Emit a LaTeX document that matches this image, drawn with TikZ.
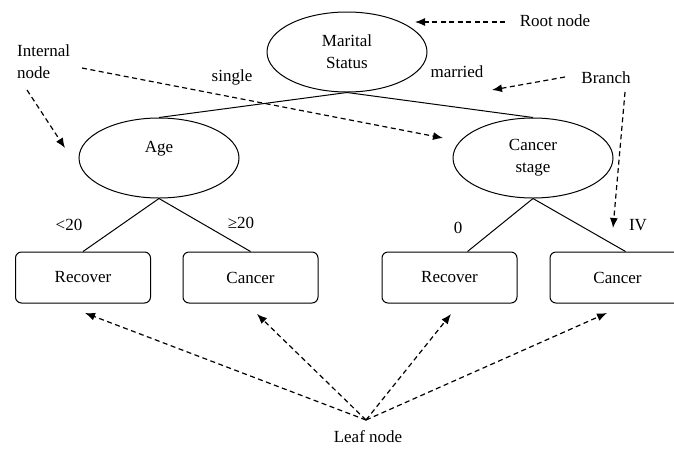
\documentclass[tikz,border=0pt]{standalone}
\usepackage{fontspec}
\setmainfont{Liberation Serif}
\usetikzlibrary{shapes.geometric,arrows.meta}
\begin{document}
\begin{tikzpicture}[x=1pt,y=-1pt,
  txt/.style={font=\fontsize{17}{22}\selectfont, inner sep=0pt},
  ell/.style={draw, ellipse, line width=1pt, minimum width=160pt, minimum height=80pt, inner sep=0pt, align=center, font=\fontsize{17}{22}\selectfont},
  leaf/.style={draw, rounded corners=6pt, line width=1pt, minimum width=135pt, minimum height=51pt, inner sep=0pt, font=\fontsize{17}{22}\selectfont},
  edge/.style={line width=1pt},
  ann/.style={line width=1.2pt, dash pattern=on 5pt off 3.5pt, -{Latex[length=10pt,width=8pt]}}
]
\useasboundingbox (0,0) rectangle (674,448);
% tree nodes
\node[ell] (root) at (347,52) {Marital\\Status};
\node[ell] (age) at (159,158) {Age\\\mbox{}};
\node[ell] (stage) at (533,158) {Cancer\\stage};
\node[leaf] (rec1) at (83,277.5) {Recover};
\node[leaf] (can1) at (250.5,277.5) {Cancer};
\node[leaf] (rec2) at (449.5,277.5) {Recover};
\node[leaf] (can2) at (617.5,277.5) {Cancer};
% edges
\draw[edge] (root.south) -- (age.north);
\draw[edge] (root.south) -- (stage.north);
\draw[edge] (age.south) -- (rec1.north);
\draw[edge] (age.south) -- (can1.north);
\draw[edge] (stage.south) -- ([xshift=18pt]rec2.north);
\draw[edge] (stage.south) -- ([xshift=8pt]can2.north);
% edge labels
\node[txt] (lsingle) at (232,77) {single};
\node[txt] (lmarried) at (457,72) {married};
\node[txt] (llt) at (69,225) {<20};
\node[txt] (lge) at (241,223) {≥20};
\node[txt] (lzero) at (458,228) {0};
\node[txt] (liv) at (638,225) {IV};
% annotation labels
\node[txt] (lroot) at (555,21) {Root node};
\node[txt] (lbranch) at (606,78) {Branch};
\node[txt, align=left, anchor=west] (linternal) at (17,62) {Internal\\node};
\node[txt] (lleaf) at (368,437) {Leaf node};
% annotation coordinates
\coordinate (rs) at (505,22);
\coordinate (rt) at (415,22);
\coordinate (bs) at (565,77);
\coordinate (bt) at (492,90);
\coordinate (bs2) at (625,92);
\coordinate (bt2) at (613,228);
\coordinate (is1) at (27,90);
\coordinate (it1) at (65,148);
\coordinate (is2) at (82,68);
\coordinate (it2) at (443,138);
\coordinate (lf) at (366,420);
\coordinate (t1) at (85,313);
\coordinate (t2) at (257,314);
\coordinate (t3) at (451,314);
\coordinate (t4) at (607,313);
% annotation arrows
\draw[ann] (rs) -- (rt);
\draw[ann] (bs) -- (bt);
\draw[ann] (bs2) -- (bt2);
\draw[ann] (is1) -- (it1);
\draw[ann] (is2) -- (it2);
\draw[ann] (lf) -- (t1);
\draw[ann] (lf) -- (t2);
\draw[ann] (lf) -- (t3);
\draw[ann] (lf) -- (t4);
\end{tikzpicture}
\end{document}
